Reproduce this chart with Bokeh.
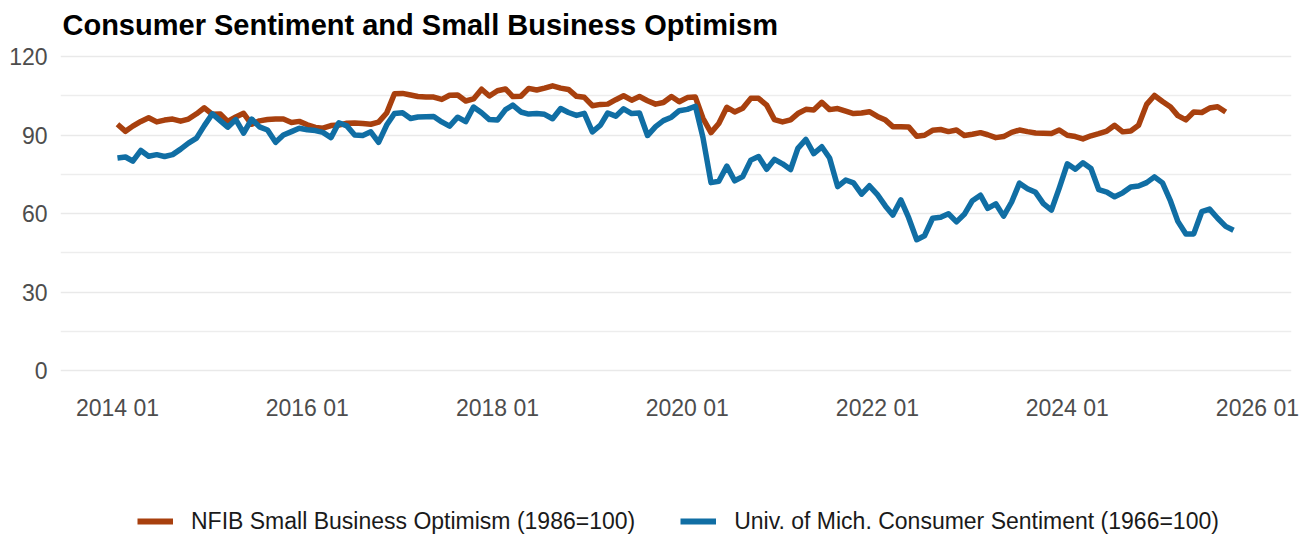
import pandas as pd
from bokeh.plotting import figure
from bokeh.layouts import column
from bokeh.models import (Range1d, FixedTicker, DatetimeTickFormatter, Legend,
                          LegendItem)
from bokeh.embed import file_html
from bokeh.resources import INLINE

# ---------------- data ----------------
start_month = "2014-01-01"

# NFIB Small Business Optimism Index (1986=100), monthly from 2014-01
nfib = [
    94.1, 91.4, 93.4, 95.2, 96.6, 95.0, 95.7, 96.1, 95.3, 96.1, 98.1, 100.4,
    97.9, 98.0, 95.2, 96.9, 98.3, 94.1, 95.4, 95.9, 96.1, 96.1, 94.8, 95.2,
    93.9, 92.9, 92.6, 93.6, 93.8, 94.5, 94.6, 94.4, 94.1, 94.9, 98.4, 105.8,
    105.9, 105.3, 104.7, 104.5, 104.5, 103.6, 105.2, 105.3, 103.0, 103.8, 107.5, 104.9,
    106.9, 107.6, 104.7, 104.8, 107.8, 107.2, 107.9, 108.8, 107.9, 107.4, 104.8, 104.4,
    101.2, 101.7, 101.8, 103.5, 105.0, 103.3, 104.7, 103.1, 101.8, 102.4, 104.7, 102.7,
    104.3, 104.5, 96.4, 90.9, 94.4, 100.6, 98.8, 100.2, 104.0, 104.0, 101.4, 95.9,
    95.0, 95.8, 98.2, 99.8, 99.6, 102.5, 99.7, 100.1, 99.1, 98.2, 98.4, 98.9,
    97.1, 95.7, 93.2, 93.2, 93.1, 89.5, 89.9, 91.8, 92.1, 91.3, 91.9, 89.8,
    90.3, 90.9, 90.1, 89.0, 89.4, 91.0, 91.9, 91.3, 90.8, 90.7, 90.6, 91.9,
    89.9, 89.4, 88.5, 89.7, 90.5, 91.5, 93.7, 91.2, 91.5, 93.7, 101.7, 105.1,
    102.8, 100.7, 97.4, 95.8, 98.8, 98.6, 100.3, 100.8, 98.8,
]

# University of Michigan Consumer Sentiment (1966=100), monthly from 2014-01
umich = [
    81.2, 81.6, 80.0, 84.1, 81.9, 82.5, 81.8, 82.5, 84.6, 86.9, 88.8, 93.6,
    98.1, 95.4, 93.0, 95.9, 90.7, 96.1, 93.1, 91.9, 87.2, 90.0, 91.3, 92.6,
    92.0, 91.7, 91.0, 89.0, 94.7, 93.5, 90.0, 89.8, 91.2, 87.2, 93.8, 98.2,
    98.5, 96.3, 96.9, 97.0, 97.1, 95.0, 93.4, 96.8, 95.1, 100.7, 98.5, 95.9,
    95.7, 99.7, 101.4, 98.8, 98.0, 98.2, 97.9, 96.2, 100.1, 98.6, 97.5, 98.3,
    91.2, 93.8, 98.4, 97.2, 100.0, 98.2, 98.4, 89.8, 93.2, 95.5, 96.8, 99.3,
    99.8, 101.0, 89.1, 71.8, 72.3, 78.1, 72.5, 74.1, 80.4, 81.8, 76.9, 80.7,
    79.0, 76.8, 84.9, 88.3, 82.9, 85.5, 81.2, 70.3, 72.8, 71.7, 67.4, 70.6,
    67.2, 62.8, 59.4, 65.2, 58.4, 50.0, 51.5, 58.2, 58.6, 59.9, 56.8, 59.7,
    64.9, 67.0, 62.0, 63.7, 59.0, 64.4, 71.6, 69.5, 68.1, 63.8, 61.3, 69.7,
    79.0, 76.9, 79.4, 77.2, 69.1, 68.2, 66.4, 67.9, 70.1, 70.5, 71.8, 74.0,
    71.7, 64.7, 57.0, 52.2, 52.2, 60.7, 61.7, 58.2, 55.1, 53.6,
]

x_tick_dates = ["2014-01-01", "2016-01-01", "2018-01-01", "2020-01-01",
                "2022-01-01", "2024-01-01", "2026-01-01"]
y_ticks = [0, 30, 60, 90, 120]
y_minor_ticks = [15, 45, 75, 105]

title_text = "Consumer Sentiment and Small Business Optimism"
label_nfib = "NFIB Small Business Optimism (1986=100)"
label_umich = "Univ. of Mich. Consumer Sentiment (1966=100)"

color_nfib = "#A8400E"
color_umich = "#106EA4"

# ---------------- main figure ----------------
dates_nfib = pd.date_range(start_month, periods=len(nfib), freq="MS")
dates_umich = pd.date_range(start_month, periods=len(umich), freq="MS")

x_start = pd.Timestamp("2014-01-01") - pd.Timedelta(days=219)
x_end = pd.Timestamp("2026-01-01") + pd.Timedelta(days=131)

FONT = "Liberation Sans"
W = 1302

p = figure(
    width=W, height=440,
    x_axis_type="datetime",
    x_range=Range1d(x_start, x_end),
    y_range=Range1d(-3.8, 124.2),
    output_backend="svg",
    toolbar_location=None,
    min_border_left=60, min_border_right=11,
    min_border_top=45, min_border_bottom=60,
    title=title_text,
)

p.title.text_font = FONT
p.title.text_font_size = "29px"
p.title.text_font_style = "bold"
p.title.text_color = "#000000"
p.title.align = "left"
p.title.offset = 2
p.title.standoff = 9

p.outline_line_color = None
p.background_fill_color = "white"
p.border_fill_color = "white"

p.line(dates_nfib, nfib, line_color=color_nfib, line_width=5.5, line_join="round")
p.line(dates_umich, umich, line_color=color_umich, line_width=5.5, line_join="round")

# axes
p.yaxis.ticker = FixedTicker(ticks=y_ticks, minor_ticks=y_minor_ticks)
p.xaxis.ticker = FixedTicker(ticks=[pd.Timestamp(d).value / 1e6 for d in x_tick_dates])
fmt = "%Y %m"
p.xaxis.formatter = DatetimeTickFormatter(
    years=fmt, months=fmt, days=fmt, hours=fmt, minutes=fmt,
    seconds=fmt, milliseconds=fmt, microseconds=fmt,
)
for ax in (p.xaxis, p.yaxis):
    ax.axis_line_color = None
    ax.major_tick_line_color = None
    ax.minor_tick_line_color = None
    ax.major_label_text_font = FONT
    ax.major_label_text_font_size = "23px"
    ax.major_label_text_color = "#4d4d4d"
p.yaxis.major_label_standoff = 7
p.xaxis.major_label_standoff = 8

# grid
p.xgrid.visible = False
p.ygrid.ticker = FixedTicker(ticks=y_ticks, minor_ticks=y_minor_ticks)
p.ygrid.grid_line_color = "#e9e9e9"
p.ygrid.grid_line_width = 1.6
p.ygrid.minor_grid_line_color = "#ededed"
p.ygrid.minor_grid_line_width = 1.3

# ---------------- legend strip below ----------------
lf = figure(
    width=W, height=96,
    x_range=Range1d(0, 1), y_range=Range1d(0, 1),
    output_backend="svg", toolbar_location=None,
    x_axis_location=None, y_axis_location=None,
    min_border_left=0, min_border_right=0, min_border_top=0, min_border_bottom=0,
)
lf.outline_line_color = None
lf.xgrid.visible = False
lf.ygrid.visible = False
# legend proxies: one-point lines (draw nothing themselves, outside the view)
lr1 = lf.line(x=[-1], y=[-1], line_color=color_nfib, line_width=6)
lr2 = lf.line(x=[-1], y=[-1], line_color=color_umich, line_width=6)

legend = Legend(
    items=[LegendItem(label=label_nfib, renderers=[lr1]),
           LegendItem(label=label_umich, renderers=[lr2])],
    orientation="horizontal",
    location=(77, 1.5),
    padding=0, margin=0, spacing=45,
    glyph_width=36, glyph_height=26, label_standoff=18,
    label_text_font=FONT, label_text_font_size="23px",
    label_text_color="#1a1a1a",
    border_line_color=None, background_fill_alpha=0,
)
lf.add_layout(legend)

open("out.html", "w").write(file_html(column(p, lf, spacing=0), INLINE))
